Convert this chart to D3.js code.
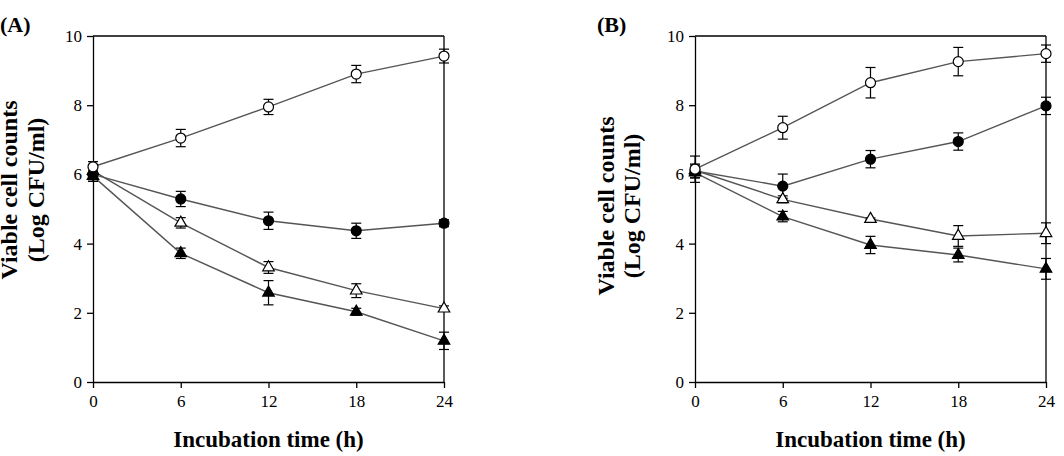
<!DOCTYPE html>
<html>
<head>
<meta charset="utf-8">
<script src="https://cdn.jsdelivr.net/npm/d3@7"></script>
<style>
  html, body { margin: 0; padding: 0; background: #fff; }
  svg { display: block; }
  text { font-family: "Liberation Serif", "Times New Roman", serif; fill: #000; }
</style>
</head>
<body>
<svg id="chart" width="1064" height="456"></svg>
<script>
// ---- data ----
const times = [0, 6, 12, 18, 24];
const xTicks = [0, 6, 12, 18, 24];
const yTicks = [0, 2, 4, 6, 8, 10];

const A_openCircle   = [6.22, 7.05, 7.95, 8.90, 9.42];
const A_openCircleE  = [0.15, 0.25, 0.22, 0.25, 0.20];
const A_fillCircle   = [6.00, 5.29, 4.66, 4.37, 4.59];
const A_fillCircleE  = [0.20, 0.22, 0.25, 0.22, 0.10];
const A_openTri      = [6.10, 4.60, 3.31, 2.64, 2.12];
const A_openTriE     = [0.15, 0.15, 0.17, 0.20, 0.08];
const A_fillTri      = [5.95, 3.72, 2.58, 2.03, 1.19];
const A_fillTriE     = [0.15, 0.15, 0.35, 0.10, 0.25];

const B_openCircle   = [6.15, 7.35, 8.65, 9.26, 9.49];
const B_openCircleE  = [0.38, 0.33, 0.44, 0.41, 0.25];
const B_fillCircle   = [6.10, 5.66, 6.44, 6.95, 7.98];
const B_fillCircleE  = [0.20, 0.35, 0.25, 0.25, 0.25];
const B_openTri      = [6.12, 5.28, 4.71, 4.22, 4.30];
const B_openTriE     = [0.15, 0.10, 0.03, 0.30, 0.30];
const B_fillTri      = [6.05, 4.78, 3.96, 3.67, 3.27];
const B_fillTriE     = [0.15, 0.15, 0.25, 0.20, 0.30];

const panels = [
  { label: "(A)", labelX: 0, x0: 93, x1: 444, ylab1X: 9, ylab2X: 36, ylabCY: 190,
    series: [
      { v: A_fillTri, e: A_fillTriE, shape: "tri", filled: true },
      { v: A_openTri, e: A_openTriE, shape: "tri", filled: false },
      { v: A_fillCircle, e: A_fillCircleE, shape: "circle", filled: true },
      { v: A_openCircle, e: A_openCircleE, shape: "circle", filled: false }
    ] },
  { label: "(B)", labelX: 597, x0: 695, x1: 1046, ylab1X: 606, ylab2X: 632, ylabCY: 206,
    series: [
      { v: B_fillTri, e: B_fillTriE, shape: "tri", filled: true },
      { v: B_openTri, e: B_openTriE, shape: "tri", filled: false },
      { v: B_fillCircle, e: B_fillCircleE, shape: "circle", filled: true },
      { v: B_openCircle, e: B_openCircleE, shape: "circle", filled: false }
    ] }
];

const yTop = 36, yBot = 382;
const svg = d3.select("#chart");

panels.forEach(p => {
  const x = d3.scaleLinear().domain([0, 24]).range([p.x0, p.x1]);
  const y = d3.scaleLinear().domain([0, 10]).range([yBot, yTop]);
  const g = svg.append("g");

  // box (top & right)
  g.append("line").attr("x1", p.x0).attr("x2", p.x1).attr("y1", yTop).attr("y2", yTop)
    .attr("stroke", "#000").attr("stroke-width", 1.3);
  g.append("line").attr("x1", p.x1).attr("x2", p.x1).attr("y1", yTop).attr("y2", yBot)
    .attr("stroke", "#000").attr("stroke-width", 1.3);

  // axes
  const xAxis = g.append("g").attr("transform", `translate(0,${yBot})`)
    .call(d3.axisBottom(x).tickValues(xTicks).tickSize(6).tickPadding(7).tickSizeOuter(0));
  const yAxis = g.append("g").attr("transform", `translate(${p.x0},0)`)
    .call(d3.axisLeft(y).tickValues(yTicks).tickSize(6).tickPadding(5).tickSizeOuter(0));
  [xAxis, yAxis].forEach(a => {
    a.select(".domain").attr("stroke", "#000").attr("stroke-width", 1.3);
    a.selectAll(".tick line").attr("stroke", "#000").attr("stroke-width", 1.3);
    a.selectAll(".tick text").attr("font-family", '"Liberation Serif", serif')
      .attr("font-size", 17).attr("fill", "#000");
  });

  // series
  const line = d3.line().x((d, i) => x(times[i])).y(d => y(d));
  p.series.forEach(s => {
    g.append("path").datum(s.v).attr("d", line)
      .attr("fill", "none").attr("stroke", "#555").attr("stroke-width", 1.4);
  });
  p.series.forEach(s => {
    const eg = g.append("g");
    s.v.forEach((v, i) => {
      const cx = x(times[i]);
      const lo = y(v - s.e[i]), hi = y(v + s.e[i]);
      eg.append("line").attr("x1", cx).attr("x2", cx).attr("y1", lo).attr("y2", hi)
        .attr("stroke", "#000").attr("stroke-width", 1.2);
      [lo, hi].forEach(yy => eg.append("line").attr("x1", cx - 5).attr("x2", cx + 5)
        .attr("y1", yy).attr("y2", yy).attr("stroke", "#000").attr("stroke-width", 1.2));
    });
  });
  p.series.forEach(s => {
    const mg = g.append("g");
    s.v.forEach((v, i) => {
      const cx = x(times[i]), cy = y(v);
      if (s.shape === "circle") {
        mg.append("circle").attr("cx", cx).attr("cy", cy).attr("r", 5)
          .attr("fill", s.filled ? "#000" : "#fff").attr("stroke", "#000").attr("stroke-width", 1.2);
      } else {
        mg.append("path").attr("d", d3.symbol().type(d3.symbolTriangle).size(58)())
          .attr("transform", `translate(${cx},${cy})`)
          .attr("fill", s.filled ? "#000" : "#fff").attr("stroke", "#000").attr("stroke-width", 1.2);
      }
    });
  });

  // labels
  svg.append("text").attr("x", p.labelX).attr("y", 32).attr("font-size", 22)
    .attr("font-weight", "bold").text(p.label);
  svg.append("text").attr("x", (p.x0 + p.x1) / 2).attr("y", 447).attr("text-anchor", "middle")
    .attr("font-size", 23).attr("font-weight", "bold").text("Incubation time (h)");
  svg.append("text").attr("transform", `translate(${p.ylab1X + 8},${p.ylabCY}) rotate(-90)`)
    .attr("text-anchor", "middle").attr("font-size", 24).attr("font-weight", "bold")
    .text("Viable cell counts");
  svg.append("text").attr("transform", `translate(${p.ylab2X + 8},${p.ylabCY}) rotate(-90)`)
    .attr("text-anchor", "middle").attr("font-size", 24).attr("font-weight", "bold")
    .text("(Log CFU/ml)");
});
</script>
</body>
</html>
